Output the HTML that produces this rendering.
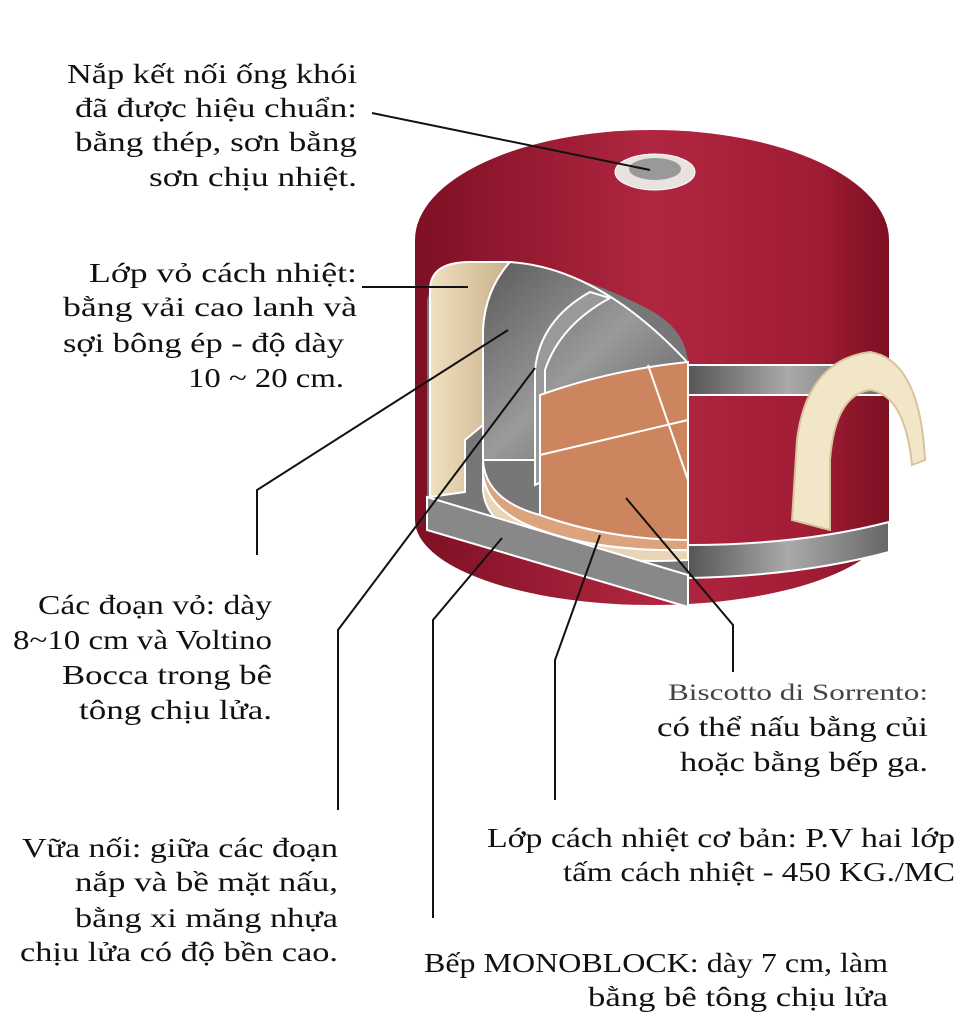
<!DOCTYPE html>
<html><head><meta charset="utf-8"><style>
body{margin:0;background:#fff;}
svg{display:block}
text{font-family:"Liberation Serif",serif;font-size:27px;fill:#111;}
.s{font-size:23px;fill:#444;}
</style></head><body>
<svg width="959" height="1024" viewBox="0 0 959 1024" xmlns="http://www.w3.org/2000/svg">
<defs>
<linearGradient id="red" x1="0" x2="1" y1="0" y2="0">
<stop offset="0" stop-color="#7e1024"/><stop offset="0.5" stop-color="#b02640"/><stop offset="0.85" stop-color="#a01c34"/><stop offset="1" stop-color="#7c0f22"/></linearGradient>
<linearGradient id="gray" x1="0" x2="1"><stop offset="0" stop-color="#555"/><stop offset="0.5" stop-color="#aaa"/><stop offset="1" stop-color="#666"/></linearGradient>
<linearGradient id="dome" x1="0" x2="1" y1="0" y2="1"><stop offset="0" stop-color="#5a5a5a"/><stop offset="0.5" stop-color="#9a9a9a"/><stop offset="1" stop-color="#555"/></linearGradient>
<linearGradient id="cream" x1="0" x2="1"><stop offset="0" stop-color="#f0e0be"/><stop offset="1" stop-color="#c9b08c"/></linearGradient>
</defs>
<path d="M415 240 A237 110 0 0 1 889 240 L889 520 A237 85 0 0 1 415 520 Z" fill="url(#red)"/>
<path d="M688 365 L889 365 L889 395 L688 395 Z" fill="url(#gray)" stroke="#fff" stroke-width="2"/>
<path d="M688 545 Q800 545 889 522 L889 552 Q800 576 688 578 Z" fill="url(#gray)" stroke="#fff" stroke-width="2"/>
<path d="M430 290 Q430 262 470 262 Q560 262 650 310 Q686 330 688 363 L688 607 L427 530 L427 300 Z" fill="#777"/>
<path d="M430 290 Q430 262 470 262 L510 262 Q485 290 483 330 L483 425 L465 440 L465 492 L430 497 Z" fill="url(#cream)" stroke="#fff" stroke-width="2"/>
<path d="M483 330 Q485 290 510 262 Q600 268 688 363 L688 460 L483 460 Z" fill="url(#dome)" stroke="#fff" stroke-width="2"/>
<path d="M535 370 Q540 320 590 292 L610 298 Q560 325 545 370 L545 480 L535 485 Z" fill="#999" stroke="#fff" stroke-width="2"/>
<path d="M540 395 Q610 370 688 362 L688 545 Q600 545 540 520 Z" fill="#cc855e" stroke="#fff" stroke-width="2"/>
<path d="M540 455 L688 420 M648 365 L688 480" stroke="#fff" stroke-width="2" fill="none"/>
<path d="M483 460 Q485 500 540 515 Q610 540 688 540 L688 550 Q600 552 540 530 Q488 512 483 475 Z" fill="#dca47c" stroke="#fff" stroke-width="2"/>
<path d="M483 475 Q488 512 540 530 Q600 552 688 550 L688 560 Q600 565 540 545 Q485 525 483 490 Z" fill="#e9d4b8" stroke="#fff" stroke-width="2"/>
<path d="M427 497 L688 575 L688 607 L427 530 Z" fill="#888" stroke="#fff" stroke-width="2"/>
<ellipse cx="655" cy="172" rx="40" ry="18" fill="#e8e3df" stroke="#fff"/>
<ellipse cx="655" cy="169" rx="26" ry="11" fill="#999"/>
<path d="M792 520 L797 440 Q807 360 870 352 Q920 360 925 460 L912 465 Q905 395 870 390 Q835 395 830 460 L830 530 Z" fill="#f2e6c9" stroke="#d8c39a" stroke-width="2"/>
<g stroke="#111" stroke-width="2" fill="none">
<path d="M372 113 L650 170"/>
<path d="M362 287 L468 287"/>
<path d="M257 555 L257 490 L508 330"/>
<path d="M338 810 L338 630 L535 368"/>
<path d="M433 918 L433 620 L502 538"/>
<path d="M555 800 L555 660 L600 535"/>
<path d="M733 672 L733 625 L626 498"/>
</g>
<g lengthAdjust="spacingAndGlyphs">
<text x="67" y="83" textLength="290" lengthAdjust="spacingAndGlyphs">Nắp kết nối ống khói</text>
<text x="75" y="117" textLength="282" lengthAdjust="spacingAndGlyphs">đã được hiệu chuẩn:</text>
<text x="75" y="151" textLength="282" lengthAdjust="spacingAndGlyphs">bằng thép, sơn bằng</text>
<text x="149" y="186" textLength="208" lengthAdjust="spacingAndGlyphs">sơn chịu nhiệt.</text>
<text x="89" y="282" textLength="268" lengthAdjust="spacingAndGlyphs">Lớp vỏ cách nhiệt:</text>
<text x="63" y="316" textLength="294" lengthAdjust="spacingAndGlyphs">bằng vải cao lanh và</text>
<text x="63" y="352" textLength="281" lengthAdjust="spacingAndGlyphs">sợi bông ép - độ dày</text>
<text x="188" y="387" textLength="156" lengthAdjust="spacingAndGlyphs">10 ~ 20 cm.</text>
<text x="38" y="614" textLength="234" lengthAdjust="spacingAndGlyphs">Các đoạn vỏ: dày</text>
<text x="13" y="649" textLength="259" lengthAdjust="spacingAndGlyphs">8~10 cm và Voltino</text>
<text x="62" y="684" textLength="210" lengthAdjust="spacingAndGlyphs">Bocca trong bê</text>
<text x="79" y="719" textLength="193" lengthAdjust="spacingAndGlyphs">tông chịu lửa.</text>
<text x="22" y="857" textLength="316" lengthAdjust="spacingAndGlyphs">Vữa nối: giữa các đoạn</text>
<text x="75" y="891" textLength="263" lengthAdjust="spacingAndGlyphs">nắp và bề mặt nấu,</text>
<text x="75" y="927" textLength="263" lengthAdjust="spacingAndGlyphs">bằng xi măng nhựa</text>
<text x="20" y="961" textLength="318" lengthAdjust="spacingAndGlyphs">chịu lửa có độ bền cao.</text>
<text x="424" y="972" textLength="464" lengthAdjust="spacingAndGlyphs">Bếp MONOBLOCK: dày 7 cm, làm</text>
<text x="588" y="1006" textLength="300" lengthAdjust="spacingAndGlyphs">bằng bê tông chịu lửa</text>
<text x="487" y="847" textLength="468" lengthAdjust="spacingAndGlyphs">Lớp cách nhiệt cơ bản: P.V hai lớp</text>
<text x="563" y="881" textLength="392" lengthAdjust="spacingAndGlyphs">tấm cách nhiệt - 450 KG./MC</text>
<text class="s" x="668" y="700" textLength="260" lengthAdjust="spacingAndGlyphs">Biscotto di Sorrento:</text>
<text x="657" y="736" textLength="271" lengthAdjust="spacingAndGlyphs">có thể nấu bằng củi</text>
<text x="680" y="771" textLength="248" lengthAdjust="spacingAndGlyphs">hoặc bằng bếp ga.</text>
</g>
</svg>
</body></html>
